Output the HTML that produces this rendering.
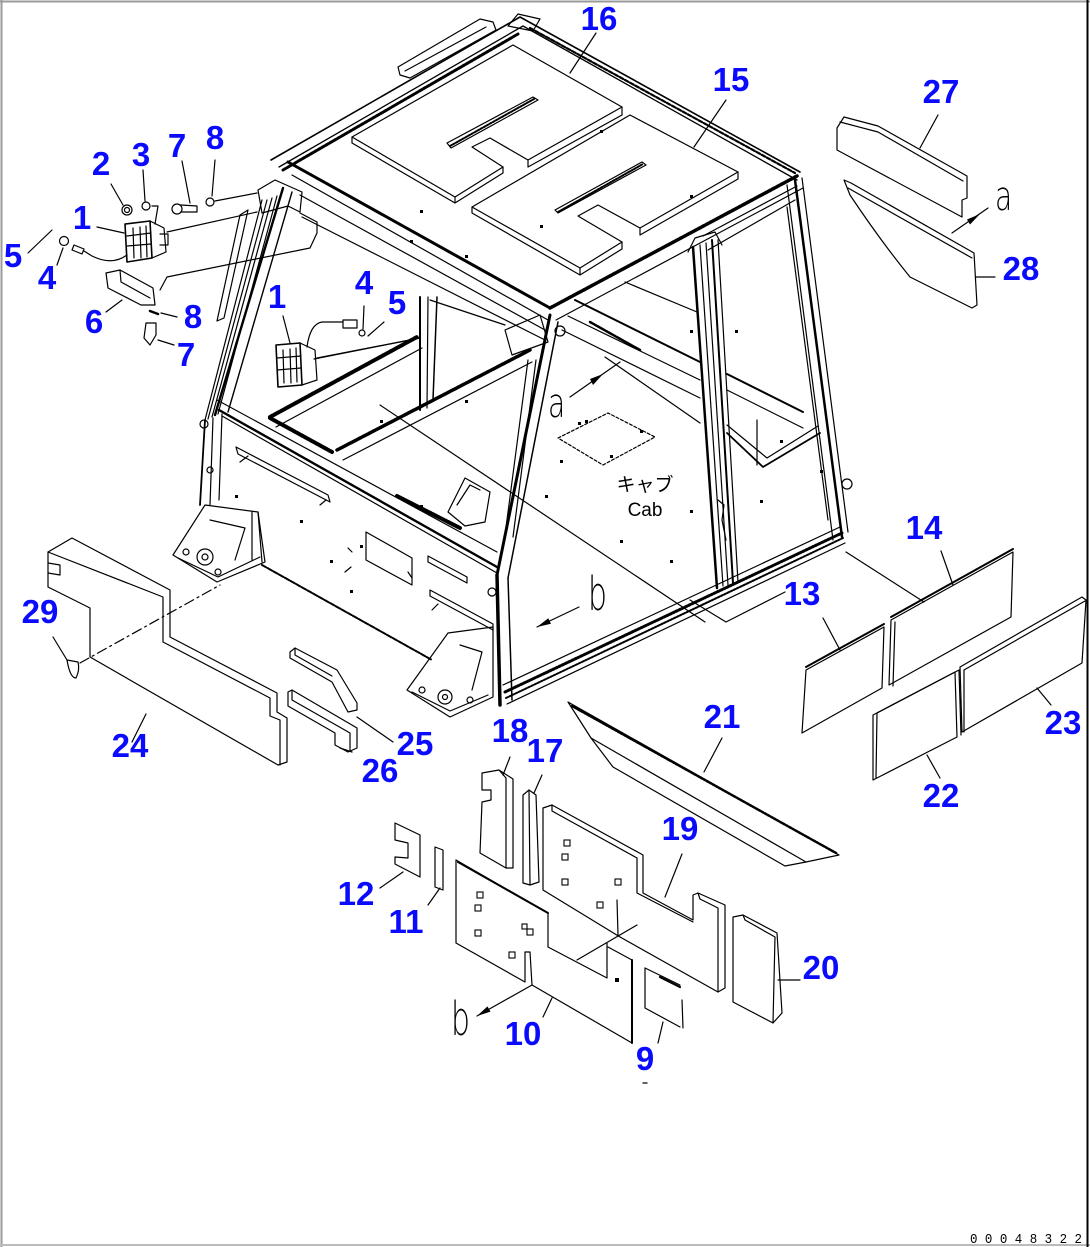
<!DOCTYPE html>
<html><head><meta charset="utf-8">
<style>
html,body{margin:0;padding:0;background:#fff}
svg{display:block}
.l{font-family:"Liberation Sans",sans-serif;font-weight:bold;font-size:33px;fill:#0a0aff;text-anchor:middle}
.t{font-family:"DejaVu Sans","Liberation Sans",sans-serif;font-weight:200;fill:#000}
.j{font-family:"Liberation Sans","Noto Sans CJK JP",sans-serif;fill:#000}
</style></head><body>
<svg width="1090" height="1247" viewBox="0 0 1090 1247" xmlns="http://www.w3.org/2000/svg">
<!-- frame -->
<line x1="0" y1="1.5" x2="1090" y2="1.5" stroke="#9a9a9a" stroke-width="2"/>
<line x1="1.5" y1="0" x2="1.5" y2="1247" stroke="#9a9a9a" stroke-width="2"/>
<line x1="0" y1="1245" x2="1090" y2="1245" stroke="#bbb" stroke-width="2"/>
<line x1="1087.5" y1="0" x2="1087.5" y2="1247" stroke="#000" stroke-width="2"/>

<g fill="none" stroke="#000" stroke-width="1.2" stroke-linejoin="round" stroke-linecap="round">
<!-- ROOF -->
<path d="M271,160 L520,17 L800,172" stroke-width="1.6"/>
<path d="M279,167 L523,26 L797,180" stroke-width="1.3"/>
<path d="M283,170 L518,34" stroke-width="3" stroke-dasharray="3 1.5"/>
<path d="M530,28 L795,173" stroke-width="2.2" stroke-dasharray="4 2"/>
<path d="M288,162 L550,308" stroke-width="3"/>
<path d="M550,308 L797,176" stroke-width="3.5" stroke-dasharray="3 1.2"/>
<path d="M550,308 L797,176" stroke-width="1.5"/>
<path d="M292,175 L548,320"/>
<path d="M556,320 L803,188"/>
<path d="M302,217 L545,340"/>
<path d="M300,195 L545,330"/>
<path d="M398,67 L480,19 L493,22 L496,30 L410,78 L400,75 Z"/>
<path d="M405,71 L486,27"/>
<path d="M508,26 L518,14 L540,19 L533,31 Z"/>
<!-- panel 16 -->
<path d="M352,137 L513,45 L622,107 L528,160 L490,138 L472,147 L503,167 L455,197 Z"/>
<path d="M352,137 L352,143 L455,203 L455,197 M455,203 L503,173 L503,167 M622,107 L622,115 L528,167 L528,160"/>
<path d="M447,143 L533,97 L538,100 L451,148 Z"/>
<path d="M450,146 L534,99" stroke-dasharray="2 1.5" stroke-width="2"/>
<!-- panel 15 -->
<path d="M472,207 L630,115 L738,172 L640,228 L598,205 L578,216 L622,242 L580,268 Z"/>
<path d="M472,207 L472,213 L580,275 L580,268 M580,275 L622,249 L622,242 M738,172 L738,179 L640,235 L640,228"/>
<path d="M555,210 L642,162 L646,165 L558,213 Z"/>
<path d="M558,212 L643,164" stroke-dasharray="2 1.5" stroke-width="2"/>
<!-- leaders roof -->
<path d="M596,33 L570,73 M726,100 L694,147"/>

<!-- LEFT REAR PILLAR -->
<path d="M283,188 L215,415" stroke-width="2.4"/>
<path d="M262,200 L205,420"/>
<path d="M267,200 L208,419"/>
<path d="M272,198 L212,417"/>
<path d="M277,196 L218,414"/>
<path d="M292,192 L228,412" stroke-width="1.4"/>
<path d="M240,215 L248,210 L224,318 L217,321 Z"/>
<path d="M205,420 L200,505" stroke-width="1.8"/>
<path d="M213,418 L210,505"/>
<path d="M222,414 L219,500"/>
<path d="M258,190 L275,180 L302,192 L300,212 L288,206 L262,213 Z"/>
<path d="M300,213 L317,222 L317,233 L310,248 L167,277 L160,290"/>
<path d="M167,232 L257,212"/>
<path d="M215,201 L257,193"/>
<circle cx="204" cy="424" r="4"/>
<circle cx="210" cy="470" r="3"/>

<!-- BELTLINE / LEFT SIDE PANEL -->
<path d="M217,400 L497,552"/>
<path d="M219,410 L497,567" stroke-width="2.4"/>
<path d="M222,416 L497,573"/>
<path d="M270,418 L332,452" stroke-width="4" stroke-dasharray="2 1"/>
<path d="M397,496 L460,528" stroke-width="4" stroke-dasharray="2 1"/>
<path d="M262,565 L432,660" stroke-width="2" stroke-dasharray="5 1.5"/>
<path d="M236,447 L328,495 L330,502 L238,454 Z"/>
<path d="M366,532 L412,558 L412,585 L366,560 Z"/>
<path d="M428,556 L467,577 L467,583 L428,562 Z"/>
<path d="M430,590 L493,624 L493,630 L430,596 Z"/>
<path d="M448,512 L465,478 L490,492 L485,522 L465,526 Z"/>
<path d="M457,505 L470,485 L480,490"/>
<path d="M240,462 L248,456 M320,505 L326,500 M345,572 L351,567 M432,610 L438,604 M348,548 L352,552 M408,572 L412,578"/>
<!-- rear bracket -->
<path d="M173,555 L205,505 L258,512 L265,562 L217,582 Z"/>
<path d="M178,558 L218,577 L260,557"/>
<path d="M210,520 L245,528 L235,560"/>
<path d="M252,512 L252,560 M258,512 L262,562"/>
<circle cx="205" cy="557" r="8"/><circle cx="205" cy="557" r="3"/>
<circle cx="186" cy="552" r="3"/><circle cx="218" cy="572" r="3"/>
<!-- front bracket -->
<path d="M407,690 L448,633 L493,627 L493,697 L450,717 Z"/>
<path d="M412,692 L450,711 L488,695"/>
<path d="M460,645 L482,652 L472,690"/>
<circle cx="445" cy="697" r="7"/><circle cx="445" cy="697" r="2.5"/>
<circle cx="422" cy="690" r="3"/><circle cx="470" cy="700" r="3"/>

<!-- A PILLAR -->
<path d="M550,315 L497,575" stroke-width="3"/>
<path d="M558,322 L508,578" stroke-width="1.5"/>
<path d="M528,360 L505,535 M536,360 L513,537"/>
<path d="M497,575 L500,705" stroke-width="3.5"/>
<path d="M508,578 L512,700" stroke-width="1.5"/>
<path d="M505,330 L540,315 L548,342 L512,355 Z"/>
<circle cx="560" cy="331" r="5"/>
<circle cx="492" cy="592" r="4"/>

<!-- RIGHT FRONT PILLAR -->
<path d="M693,247 L717,588" stroke-width="2.5"/>
<path d="M700,245 L723,586"/>
<path d="M706,243 L728,585"/>
<path d="M712,240 L733,583" stroke-width="2"/>
<path d="M718,240 L738,582"/>
<path d="M688,252 L695,238 L715,232 L722,245"/>
<path d="M718,500 L724,505 L722,520 L726,540"/>

<!-- RIGHT REAR PILLAR -->
<path d="M787,185 L833,540"/>
<path d="M795,180 L842,537" stroke-width="2.5"/>
<path d="M802,178 L848,532"/>
<path d="M787,207 L828,520"/>
<circle cx="847" cy="484" r="5"/>
<path d="M703,236 L797,186 M708,250 L795,200"/>

<!-- FAR WINDOW FRAME -->
<path d="M270,417 L417,337" stroke-width="4" stroke-dasharray="3 1"/>
<path d="M276,427 L422,348"/>
<path d="M337,450 L530,350" stroke-width="3.5" stroke-dasharray="3 1"/>
<path d="M343,460 L532,362"/>
<path d="M420,297 L420,410" stroke-width="2"/>
<path d="M428,297 L427,408"/>
<path d="M437,297 L433,400" stroke-width="1.5"/>
<path d="M430,300 L505,325"/>
<path d="M314,359 L420,338"/>

<!-- RIGHT INTERIOR -->
<path d="M575,300 L700,362" stroke-width="2"/>
<path d="M568,316 L700,380"/>
<path d="M562,330 L700,398"/>
<path d="M727,374 L803,412" stroke-width="2"/>
<path d="M727,390 L803,428"/>
<path d="M625,282 L697,312"/>
<path d="M605,357 L700,423"/>
<path d="M727,425 L767,458 L818,426"/>
<path d="M727,433 L763,467 L820,433" stroke-width="1.8"/>
<path d="M757,420 L757,465"/>
<path d="M590,322 L640,350" stroke-width="2.5" stroke-dasharray="2 1"/>

<!-- FLOOR -->
<path d="M380,405 L705,622"/>
<path d="M558,438 L608,413 L655,437 L603,465 Z" stroke-dasharray="3 2"/>
<path d="M570,397 L620,362"/>
<path d="M579,607 L537,627"/>
<path d="M503,685 L840,527"/>
<path d="M505,692 L842,533" stroke-width="3" stroke-dasharray="2 1.5"/>
<path d="M506,698 L843,538" stroke-width="2" stroke-dasharray="2 1.5"/>
<path d="M507,704 L845,543"/>
<path d="M690,600 L726,622 L785,592"/>
<path d="M846,552 L924,602"/>

<!-- UPPER LAMP GROUP -->
<path d="M125,224 L150,221 L152,258 L127,262 Z" stroke-width="1.6"/>
<path d="M133,228 L134,258 M140,227 L141,258 M146,226 L147,257 M127,236 L151,233 M127,246 L151,244"/>
<path d="M150,221 L164,228 L166,252 L152,258"/>
<path d="M160,234 L168,234 L168,245 L160,245"/>
<path d="M97,227 L124,233"/>
<path d="M127,255 Q112,266 92,256 L84,251"/>
<path d="M74,245 L84,249 L82,254 L72,250 Z"/>
<circle cx="127" cy="210" r="5"/><circle cx="127" cy="210" r="2.5"/>
<path d="M111,184 L123,205"/>
<circle cx="146" cy="206" r="4"/>
<path d="M143,170 L145,201"/>
<path d="M152,206 L158,206 L155,224"/>
<circle cx="177" cy="209" r="5"/>
<path d="M181,205 L197,206 L197,212 L181,212"/>
<path d="M182,161 L190,203"/>
<circle cx="210" cy="202" r="4"/>
<path d="M215,160 L212,196"/>
<path d="M28,253 L52,230"/>
<circle cx="64" cy="241" r="4.5"/>
<path d="M57,265 L63,248"/>
<path d="M106,273 L120,270 L153,288 L155,305 L141,305 L108,288 Z"/>
<path d="M120,270 L121,282 L150,298"/>
<path d="M106,312 L122,300"/>
<path d="M150,311 L158,314" stroke-width="2.5"/>
<path d="M177,317 L161,313"/>
<path d="M146,323 L156,323 L156,335 L150,345 L144,338 Z"/>
<path d="M174,345 L158,340"/>

<!-- SECOND LAMP -->
<path d="M276,345 L300,343 L302,385 L278,387 Z" stroke-width="1.6"/>
<path d="M283,350 L284,383 M290,349 L291,383 M296,348 L297,382 M277,358 L301,356 M277,370 L301,368"/>
<path d="M300,343 L315,350 L317,380 L302,385"/>
<path d="M283,316 L290,343"/>
<path d="M307,347 Q310,324 322,322 L343,322"/>
<path d="M343,320 L357,320 L357,328 L343,328 Z"/>
<circle cx="362" cy="333" r="3"/>
<path d="M364,306 L363,329 M384,322 L368,336"/>
<path d="M317,358 L420,338"/>

<!-- 27 / 28 -->
<path d="M837,128 L844,117 L878,126 L967,176 L967,198 L962,200 L962,217 L837,150 Z"/>
<path d="M840,122 L878,132 L963,181"/>
<path d="M938,115 L920,148"/>
<path d="M844,180 L851,183 L974,253 L977,305 L972,308 L910,277 Q880,240 850,195 Z"/>
<path d="M848,188 L972,258"/>
<path d="M976,277 L995,277"/>
<path d="M952,233 L988,208"/>

<!-- 13 14 22 23 -->
<path d="M806,670 L884,627 L882,688 L802,733 Z"/>
<path d="M806,667 L884,624" stroke-width="2"/>
<path d="M891,620 L1013,552 L1011,617 L889,685 Z"/>
<path d="M891,617 L1013,549" stroke-width="2"/>
<path d="M895,622 L893,686"/>
<path d="M823,618 L840,650 M941,551 L953,585"/>
<path d="M873,715 L955,672 L957,737 L873,780 Z"/>
<path d="M877,713 L959,670 L961,735 M877,713 L876,778"/>
<path d="M960,667 L1082,597 L1086,600 L1082,663 L962,732 Z"/>
<path d="M964,670 L1085,601 M964,670 L964,732"/>
<path d="M927,755 L940,778 M1037,688 L1051,705"/>

<!-- 21 -->
<path d="M568,702 L839,855 L806,862 L785,866 L613,767 L591,738 Z"/>
<path d="M572,706 L836,853" stroke-width="2.5" stroke-dasharray="2 1.5"/>
<path d="M591,738 L806,862"/>
<path d="M722,738 L704,772"/>

<!-- 24 29 -->
<path d="M48,552 L72,538 L170,590 L170,637 L277,693 L277,712 L287,718 L287,762 L278,765 L90,657 L90,608 L48,587 Z"/>
<path d="M48,552 L163,597 L163,642 L270,698 L270,716 L280,720 L280,765"/>
<path d="M48,563 L60,565 L60,575 L48,573"/>
<path d="M67,660 Q70,678 76,678 Q80,670 78,662 Z"/>
<path d="M53,637 L67,660"/>
<path d="M80,663 L220,585" stroke-dasharray="10 4 2 4"/>
<path d="M146,714 L132,742"/>
<!-- 25 26 -->
<path d="M290,652 L295,648 L337,670 L357,703 L357,710 L348,712 L332,682 L290,658 Z"/>
<path d="M295,648 L295,655 L332,676"/>
<path d="M288,692 L292,690 L357,728 L357,748 L348,752 L335,745 L335,733 L288,706 Z"/>
<path d="M292,690 L292,700 L350,733 L350,750"/>
<path d="M357,717 L393,742 M340,748 L352,752"/>

<!-- 17 18 12 11 -->
<path d="M482,773 L499,770 L513,779 L513,868 L506,868 L480,853 L482,802 L491,800 L491,790 L482,790 Z"/>
<path d="M499,770 L506,778 L506,868"/>
<path d="M510,757 L503,775 M542,775 L534,793"/>
<path d="M523,795 L529,790 L536,795 L539,882 L530,885 L523,883 Z"/>
<path d="M529,790 L530,885"/>
<path d="M395,823 L420,835 L420,877 L395,864 L395,857 L408,858 L408,843 L395,840 Z"/>
<path d="M380,888 L403,872"/>
<path d="M435,847 L443,850 L443,890 L435,887 Z"/>
<path d="M428,905 L440,888"/>

<!-- 10 -->
<path d="M456,860 L548,913 L548,947 L607,978 L607,943"/>
<path d="M608,947 L632,960 L632,1043 L532,985 L530,952 L525,952 L525,982 L456,943 L456,860"/>
<path d="M458,862 L548,913" stroke-width="2"/>
<path d="M632,960 L632,1043" stroke-width="2"/>
<path d="M543,1017 L552,998"/>
<!-- 19 -->
<path d="M543,808 L552,805 L643,855 L643,893 L693,920 L693,895 L698,893 L725,905 L725,988 L718,992 L620,937 L543,890 Z"/>
<path d="M552,805 L552,811 L637,858 L637,893 M698,893 L700,899 L718,908 L718,992 M637,893 L693,922"/>
<path d="M682,854 L665,897"/>
<path d="M637,925 L577,960 M617,900 L618,935"/>
<!-- 20 -->
<path d="M733,917 L743,915 L777,933 L782,1013 L773,1023 L733,1002 Z"/>
<path d="M743,915 L745,920 L775,937 L773,1023"/>
<path d="M778,980 L800,980"/>
<!-- 9 -->
<path d="M645,968 L680,985 M645,968 L645,1008 L680,1027 M682,1000 L683,1028"/>
<path d="M660,977 L680,987" stroke-width="2.2"/>
<path d="M663,1022 L658,1043"/>
<path d="M643,1083 L647,1083"/>
<!-- b arrow -->
<path d="M532,985 L477,1016"/>
</g>

<!-- holes -->
<g fill="none" stroke="#000" stroke-width="1.1">
<rect x="477" y="892" width="6" height="6"/><rect x="475" y="905" width="6" height="6"/>
<rect x="475" y="930" width="6" height="6"/><rect x="527" y="929" width="6" height="6"/>
<rect x="509" y="952" width="6" height="6"/><rect x="522" y="924" width="5" height="5"/>
<rect x="564" y="840" width="6" height="6"/><rect x="562" y="854" width="6" height="6"/>
<rect x="562" y="879" width="6" height="6"/><rect x="615" y="879" width="6" height="6"/>
<rect x="597" y="902" width="6" height="6"/>
</g>
<g fill="#000">
<rect x="615" y="978" width="4" height="4"/>
<!-- arrowheads -->
<polygon points="603,374 593,385 590,379"/>
<polygon points="980,214 970,224.5 967,219.5"/>
<polygon points="537,627 551,623.7 548.3,618.3"/>
<polygon points="477,1016 490.5,1011.6 487.5,1006.4"/>
<!-- dots -->
<rect x="420" y="210" width="3" height="3"/><rect x="410" y="240" width="3" height="3"/>
<rect x="465" y="255" width="3" height="3"/><rect x="540" y="225" width="3" height="3"/>
<rect x="600" y="130" width="3" height="3"/><rect x="690" y="195" width="3" height="3"/>
<rect x="585" y="420" width="3" height="3"/><rect x="640" y="430" width="3" height="3"/>
<rect x="560" y="460" width="3" height="3"/><rect x="545" y="495" width="3" height="3"/>
<rect x="610" y="455" width="3" height="3"/><rect x="690" y="510" width="3" height="3"/>
<rect x="760" y="500" width="3" height="3"/><rect x="780" y="440" width="3" height="3"/>
<rect x="620" y="540" width="3" height="3"/><rect x="670" y="560" width="3" height="3"/>
<rect x="360" y="545" width="3" height="3"/><rect x="420" y="505" width="3" height="3"/>
<rect x="350" y="590" width="3" height="3"/><rect x="330" y="560" width="3" height="3"/>
<rect x="300" y="520" width="3" height="3"/><rect x="235" y="495" width="3" height="3"/>
<rect x="380" y="420" width="3" height="3"/><rect x="465" y="400" width="3" height="3"/>
<rect x="735" y="330" width="3" height="3"/><rect x="690" y="330" width="3" height="3"/>
<rect x="820" y="470" width="3" height="3"/><rect x="578" y="422" width="3" height="3"/>
</g>

<!-- letters -->
<text class="t" x="0" y="0" font-size="40" transform="translate(548,417) scale(0.7,1)">a</text>
<text class="t" x="0" y="0" font-size="40" transform="translate(995,210) scale(0.7,1)">a</text>
<text class="t" x="0" y="0" font-size="46" transform="translate(588,610) scale(0.65,1)">b</text>
<text class="t" x="0" y="0" font-size="46" transform="translate(451,1035) scale(0.65,1)">b</text>
<text class="j" x="645" y="491" font-size="19" text-anchor="middle">キャブ</text>
<text class="j" x="645" y="516" font-size="19" text-anchor="middle">Cab</text>
<text x="1026" y="1243" font-family="Liberation Mono, monospace" font-size="14" text-anchor="middle" textLength="112" lengthAdjust="spacingAndGlyphs" fill="#000">0 0 0 4 8 3 2 2</text>

<!-- labels -->
<text class="l" x="599" y="30">16</text>
<text class="l" x="731" y="91">15</text>
<text class="l" x="941" y="103">27</text>
<text class="l" x="1021" y="280">28</text>
<text class="l" x="101" y="175">2</text>
<text class="l" x="141" y="166">3</text>
<text class="l" x="177" y="157">7</text>
<text class="l" x="215" y="149">8</text>
<text class="l" x="82" y="229">1</text>
<text class="l" x="13" y="267">5</text>
<text class="l" x="47" y="289">4</text>
<text class="l" x="94" y="333">6</text>
<text class="l" x="193" y="328">8</text>
<text class="l" x="186" y="366">7</text>
<text class="l" x="277" y="308">1</text>
<text class="l" x="364" y="294">4</text>
<text class="l" x="397" y="314">5</text>
<text class="l" x="924" y="539">14</text>
<text class="l" x="802" y="605">13</text>
<text class="l" x="40" y="623">29</text>
<text class="l" x="130" y="757">24</text>
<text class="l" x="415" y="755">25</text>
<text class="l" x="380" y="782">26</text>
<text class="l" x="510" y="742">18</text>
<text class="l" x="545" y="762">17</text>
<text class="l" x="722" y="728">21</text>
<text class="l" x="1063" y="734">23</text>
<text class="l" x="941" y="807">22</text>
<text class="l" x="680" y="840">19</text>
<text class="l" x="356" y="905">12</text>
<text class="l" x="406" y="933">11</text>
<text class="l" x="821" y="979">20</text>
<text class="l" x="523" y="1045">10</text>
<text class="l" x="645" y="1070">9</text>
</svg>
</body></html>
